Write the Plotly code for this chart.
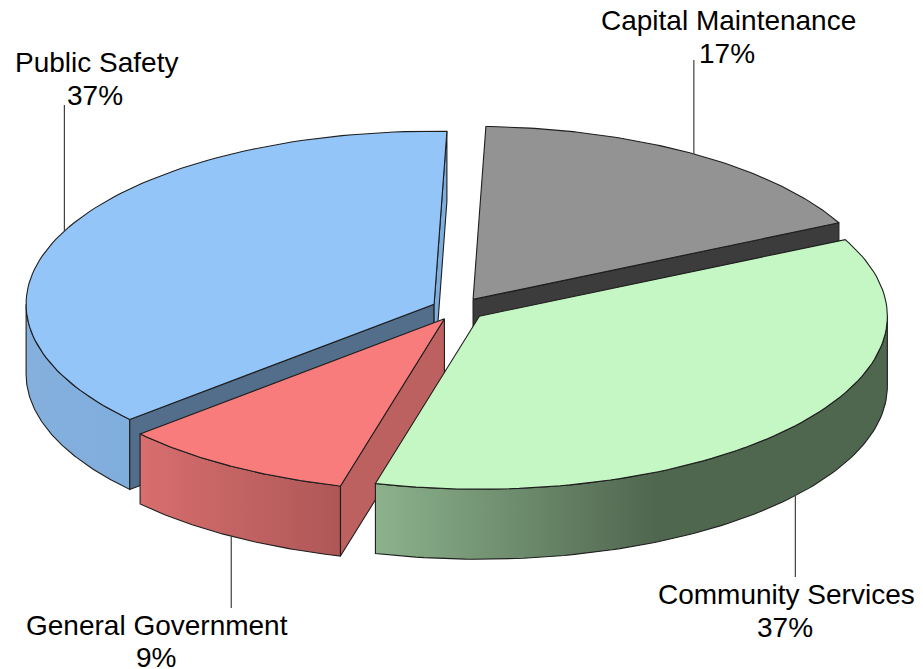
import math
import plotly.graph_objects as go

# --- data ---
categories = ["Capital Maintenance", "Community Services", "General Government", "Public Safety"]
values = [17.2, 36.4, 9.3, 37.1]
percent_labels = ["17%", "37%", "9%", "37%"]

# --- styles ---
top_colors = ["#939393", "#C4F7C4", "#F87C7C", "#93C5F8"]
cut_colors = ["#3C3C3C", "#4F664F", "#BD6060", "#526E8A"]
side_scales = [
    [[0, "#3C3C3C"], [1, "#3C3C3C"]],
    [[0, "#8CB28C"], [0.55, "#4F664F"], [1, "#4F664F"]],
    [[0, "#D86E6E"], [1, "#AE5757"]],
    [[0, "#85B0DE"], [1, "#7FADDC"]],
]
sliver_color = "#7EAEDE"
W, H = 923, 669
CX, CY, RX, RY, DEPTH = 458.5, 309, 408, 173, 70
EXPLODE = 0.066
START = 1.8
OUT = dict(color="#1E1E1E", width=1.1)
FONT = dict(family="Liberation Sans, Arial", size=28, color="#000000")
label_lines = {  # name x, name y, percent x, percent y, leader end y
    "Capital Maintenance": (728, 20, 727, 53, 60),
    "Community Services": (786, 594, 785, 627, 577),
    "General Government": (157, 625, 156, 657, 608),
    "Public Safety": (96, 62, 95, 95, 105),
}


def pt(c, t, dz=0):
    r = math.radians(t)
    return c[0] + RX * math.sin(r), c[1] - RY * math.cos(r) + dz


def arc(c, a, b, dz=0, n=90):
    return [pt(c, a + (b - a) * i / n, dz) for i in range(n + 1)]


def poly(fig, pts, color=None, scale=None, line=OUT):
    xs = [p[0] for p in pts] + [pts[0][0]]
    ys = [p[1] for p in pts] + [pts[0][1]]
    kw = dict(fillcolor=color) if scale is None else dict(
        fillgradient=dict(type="horizontal", colorscale=scale))
    fig.add_trace(go.Scatter(x=xs, y=ys, mode="lines", fill="toself", line=line,
                             hoverinfo="skip", showlegend=False, **kw))


total = sum(values)
slices = {}
a = START
for i, name in enumerate(categories):
    sweep = values[i] / total * 360
    mid = a + sweep / 2
    off = pt((0, 0), mid)
    apex = (CX + EXPLODE * off[0], CY + EXPLODE * off[1])
    slices[name] = dict(i=i, a=a, b=a + sweep, mid=mid, apex=apex)
    a += sweep

fig = go.Figure()


def outer_wall(name):
    s = slices[name]
    c = s["apex"]
    lo, hi = max(s["a"], 90), min(s["b"], 270)
    if lo < hi:
        poly(fig, arc(c, lo, hi) + arc(c, hi, lo, DEPTH), scale=side_scales[s["i"]])


def cut_wall(name, t, color):
    c = slices[name]["apex"]
    e = pt(c, t)
    poly(fig, [c, e, (e[0], e[1] + DEPTH), (c[0], c[1] + DEPTH)], color=color)


def top(name):
    s = slices[name]
    c = s["apex"]
    poly(fig, [c] + arc(c, s["a"], s["b"]), color=top_colors[s["i"]])


# back to front
ps, gg, cm = (slices[n] for n in ("Public Safety", "General Government", "Capital Maintenance"))
outer_wall("Public Safety")
cut_wall("Public Safety", ps["a"], cut_colors[3])
cut_wall("Public Safety", ps["b"], sliver_color)
top("Public Safety")
outer_wall("General Government")
cut_wall("General Government", gg["a"], cut_colors[2])
top("General Government")
cut_wall("Capital Maintenance", cm["b"], cut_colors[0])
top("Capital Maintenance")
outer_wall("Community Services")
top("Community Services")

# leaders and labels
annotations = []
for i, name in enumerate(categories):
    s = slices[name]
    nx, ny, px, py, ey = label_lines[name]
    rim = pt(s["apex"], s["mid"], DEPTH if 90 < s["mid"] % 360 < 270 else 0)
    fig.add_trace(go.Scatter(x=[rim[0], rim[0]], y=[rim[1], ey], mode="lines",
                             line=dict(color="#404040", width=1.2),
                             hoverinfo="skip", showlegend=False))
    for tx, ty, txt in ((nx, ny, name), (px, py, percent_labels[i])):
        annotations.append(dict(x=tx, y=ty, xref="x", yref="y", showarrow=False,
                                xanchor="center", yanchor="middle", align="center",
                                text=txt, font=FONT))

fig.update_layout(
    width=W, height=H, margin=dict(l=0, r=0, t=0, b=0), autosize=False,
    paper_bgcolor="white", plot_bgcolor="white", showlegend=False,
    xaxis=dict(range=[0, W], visible=False, fixedrange=True),
    yaxis=dict(range=[H, 0], visible=False, fixedrange=True),
    annotations=annotations,
)
fig.write_html("out.html", config={"displayModeBar": False},
               post_script="document.body.style.margin='0';document.body.style.overflow='hidden';")
